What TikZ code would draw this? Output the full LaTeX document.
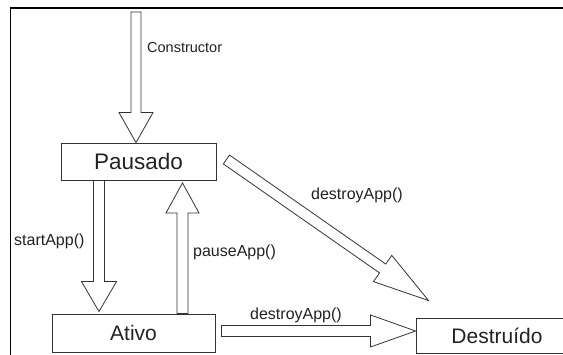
\documentclass[tikz,border=0pt]{standalone}
\usepackage{fontspec}
\setmainfont{Liberation Sans}
\usepackage{tikz}
\usetikzlibrary{calc}
\definecolor{ink}{HTML}{222222}
\definecolor{edgegray}{HTML}{333333}

% hollow block arrow: from, to, shaft half width, head half width, head length
\newcommand{\hollowarrow}[5]{%
  \coordinate (hb) at ($(#2)!#5!(#1)$);
  \draw[conn] ($(#1)!#3!90:(#2)$) -- ($(hb)!#3!90:(#2)$) -- ($(hb)!#4!90:(#2)$) -- (#2)
    -- ($(hb)!#4!-90:(#2)$) -- ($(hb)!#3!-90:(#2)$) -- ($(#1)!#3!-90:(#2)$) -- cycle;
}

\begin{document}
\begin{tikzpicture}[x=1pt, y=-1pt]

        \tikzset{state/.style = {draw=edgegray, line width=0.9pt, inner sep=0pt, text=ink, font=\fontsize{21}{25}\selectfont}}
        \tikzset{lbl/.style = {anchor=west, inner sep=0pt, text=ink, font=\fontsize{16}{19}\selectfont}}
        \tikzset{conn/.style = {draw=edgegray, line width=0.8pt, line join=miter}}

        \useasboundingbox (0,0) rectangle (563,355);
        \clip (0,0) rectangle (563,355);

        \draw[line width=2.5pt] (10,8) -- (563,8);
        \draw[line width=1pt] (10.5,8) -- (10.5,355);

        \node[state, minimum width=155pt, minimum height=37pt, font=\fontsize{22.5}{26}\selectfont] (pausado) at (138.5,161.5) {Pausado};
        \node[state, minimum width=163pt, minimum height=38pt] (ativo) at (133.5,333) {Ativo};
        \node[state, minimum width=162pt, minimum height=35pt] (destruido) at (497,335.5) {Destruído};

        \coordinate (ctor) at (136,12);
        \coordinate (ctorend) at (ctor |- pausado.north);
        \coordinate (s0) at ([xshift=-39.5pt]pausado.south);
        \coordinate (s1) at ([xshift=-34.5pt, yshift=2pt]ativo.north);
        \coordinate (p0) at ([xshift=49pt]ativo.north);
        \coordinate (p1) at ([xshift=44pt, yshift=-2.5pt]pausado.south);
        \coordinate (d0) at ([xshift=10pt, yshift=2pt]pausado.east);
        \coordinate (d1) at ([xshift=13pt, yshift=17pt]destruido.north west);
        \coordinate (h0) at ([xshift=6pt, yshift=2pt]ativo.east);
        \coordinate (h1) at (h0 -| destruido.west);

        \hollowarrow{ctor}{ctorend}{5pt}{17pt}{30pt}
        \hollowarrow{s0}{s1}{5.5pt}{17.5pt}{30pt}
        \hollowarrow{p0}{p1}{5.5pt}{16.5pt}{30pt}
        \hollowarrow{d0}{d1}{5.4pt}{16pt}{56pt}
        \hollowarrow{h0}{h1}{5.5pt}{16pt}{45pt}

        \node[lbl, font=\fontsize{14.5}{17}\selectfont] (lctor) at (147,48) {Constructor};
        \node[lbl] (lstart) at (14,241.5) {startApp()};
        \node[lbl] (lpause) at (193,252) {pauseApp()};
        \node[lbl] (ldiag) at (311,195) {destroyApp()};
        \node[lbl] (lhoriz) at (250,315) {destroyApp()};
\end{tikzpicture}
\end{document}
